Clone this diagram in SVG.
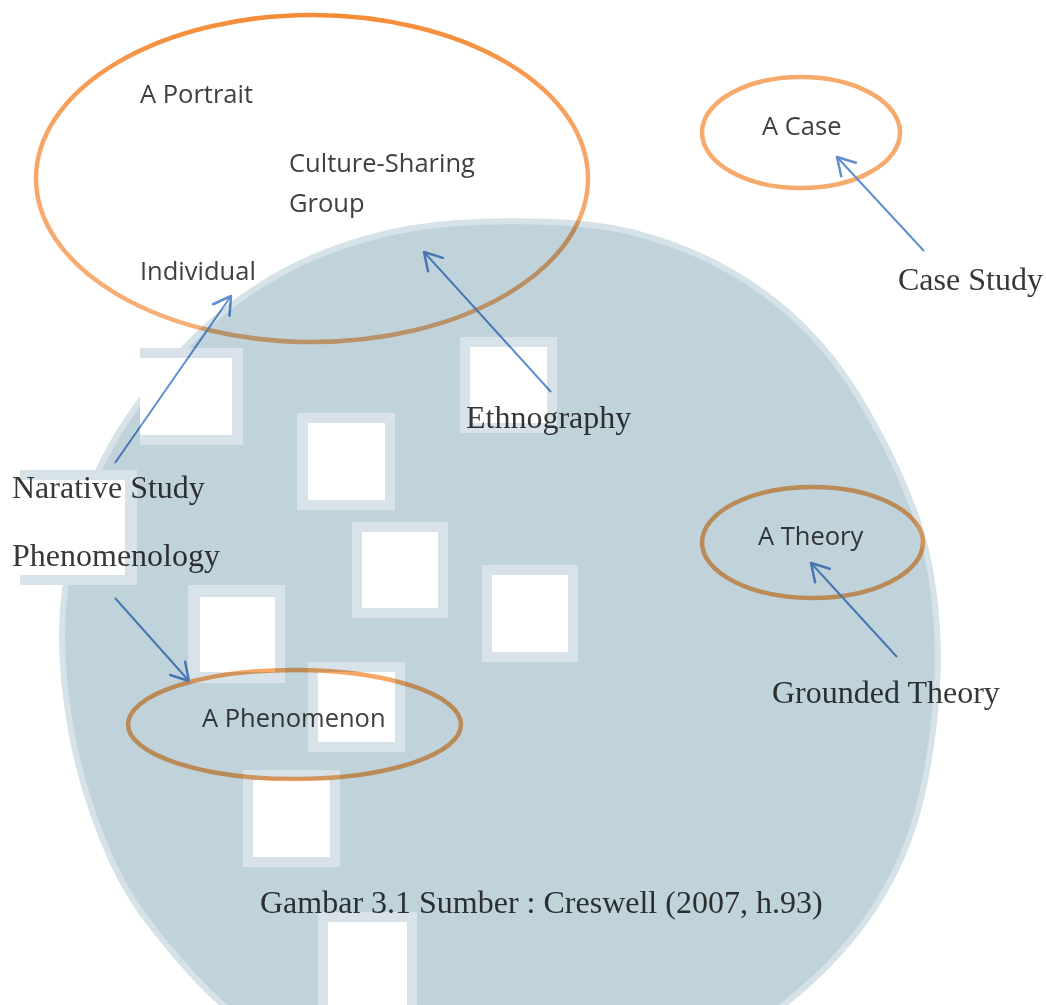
<svg xmlns="http://www.w3.org/2000/svg" width="1046" height="1005" viewBox="0 0 1046 1005">
<style>
.sans{font-family:"Open Sans","Noto Sans",sans-serif;font-size:25.5px;fill:#404040}
.serif{font-family:"Liberation Serif","Times New Roman",serif;font-size:32px;fill:#383838}
.ell{fill:none;stroke-width:4.5}
.arr{stroke:#5f8fd0;stroke-width:2;fill:none;marker-end:url(#ah)}
</style>
<defs>
<linearGradient id="bigGrad" x1="0" y1="0" x2="0" y2="1">
<stop offset="0" stop-color="#f58d38"/>
<stop offset="0.35" stop-color="#f6a566"/>
<stop offset="1" stop-color="#f8b07a"/>
</linearGradient>
<marker id="ah" markerUnits="userSpaceOnUse" viewBox="-20 -15 25 30" markerWidth="25" markerHeight="30" refX="0" refY="0" orient="auto" overflow="visible">
<path d="M-17,-10 L0,0 L-17,10" fill="none" stroke="#5f8fd0" stroke-width="2.5" stroke-linecap="round" stroke-linejoin="round"/>
</marker>
<mask id="wm" maskUnits="userSpaceOnUse" x="0" y="0" width="1046" height="1005">
<path d="M 552.5,222 Q 600,224 635,233 Q 670,242 702.5,257 Q 735,272 762.5,292 Q 790,312 812.5,336 Q 835,360 853.5,389 Q 872,418 888.5,451.5 Q 905,485 916.5,517.5 Q 928,550 933.5,591.5 Q 939,633 937.5,676.5 Q 936,720 927,770 Q 918,820 901.5,857.5 Q 885,895 862.5,925 Q 840,955 810,982.5 Q 780,1010 740,1035 Q 700,1060 600,1075 Q 500,1090 400,1075 Q 300,1060 262.5,1035 Q 225,1010 195,977.5 Q 165,945 141.5,912.5 Q 118,880 99,830 Q 80,780 71,730 Q 62,680 62,635 Q 62,590 73.5,545 Q 85,500 97.5,472.5 Q 110,445 127.5,419 Q 145,393 170,364 Q 195,335 222.5,312.5 Q 250,290 285,271 Q 320,252 365,239 Q 410,226 457.5,223 Q 505,220 552.5,222 Z" fill="#ffffff" stroke="#a8a8a8" stroke-width="6"/>
<g fill="#a0a0a0">
<rect x="140" y="348" width="103" height="97"/>
<rect x="297" y="413" width="98" height="97"/>
<rect x="460" y="337" width="97" height="96"/>
<rect x="352" y="522" width="96" height="96"/>
<rect x="482" y="565" width="96" height="97"/>
<rect x="188" y="585" width="97" height="98"/>
<rect x="308" y="662" width="97" height="90"/>
<rect x="243" y="770" width="97" height="97"/>
<rect x="318" y="912" width="99" height="100"/>
<rect x="20" y="470" width="117" height="115"/>
</g>
<g fill="#000000">
<rect x="140" y="358" width="92" height="77"/>
<rect x="308" y="423" width="77" height="77"/>
<rect x="470" y="347" width="77" height="76"/>
<rect x="362" y="532" width="76" height="76"/>
<rect x="492" y="575" width="76" height="77"/>
<rect x="200" y="597" width="75" height="75"/>
<rect x="318" y="672" width="77" height="70"/>
<rect x="253" y="780" width="77" height="77"/>
<rect x="328" y="922" width="79" height="90"/>
<rect x="20" y="480" width="105" height="95"/>
</g>
</mask>
</defs>
<rect width="1046" height="1005" fill="#ffffff"/>
<g id="node-portrait-group">
<ellipse cx="312" cy="178.5" rx="276" ry="163.5" class="ell" stroke="url(#bigGrad)"/>
<text class="sans" x="140" y="103">A Portrait</text>
<text class="sans" x="289" y="172">Culture-Sharing</text>
<text class="sans" x="289" y="212">Group</text>
<text class="sans" x="140" y="280">Individual</text>
</g>
<g id="node-case">
<ellipse cx="801" cy="132.5" rx="99" ry="55.5" class="ell" stroke="#f6ab6c"/>
<text class="sans" x="762" y="135">A Case</text>
</g>
<g id="node-theory">
<ellipse cx="812.5" cy="542.5" rx="110.5" ry="55.5" class="ell" stroke="#f7a765"/>
<text class="sans" x="758" y="545">A Theory</text>
</g>
<g id="node-phenomenon">
<ellipse cx="294.5" cy="724.5" rx="166.5" ry="54.5" class="ell" stroke="#f7a765"/>
<text class="sans" x="202" y="727">A Phenomenon</text>
</g>
<g id="label-case-study"><text class="serif" x="898" y="290">Case Study</text></g>
<g id="label-ethnography"><text class="serif" x="466" y="428">Ethnography</text></g>
<g id="label-narative"><text class="serif" x="12" y="498">Narative Study</text></g>
<g id="label-phenomenology"><text class="serif" x="12" y="566">Phenomenology</text></g>
<g id="label-grounded"><text class="serif" x="772" y="703">Grounded Theory</text></g>
<g id="caption"><text class="serif" x="260" y="913">Gambar 3.1 Sumber : Creswell (2007, h.93)</text></g>
<g id="connectors">
<line class="arr" x1="115" y1="463" x2="231" y2="296"/>
<line class="arr" x1="551" y1="392" x2="424" y2="252"/>
<line class="arr" x1="924" y1="251" x2="837" y2="157"/>
<line class="arr" x1="115" y1="598" x2="189" y2="681"/>
<line class="arr" x1="897" y1="657" x2="811" y2="563"/>
</g>
<g id="watermark" style="mix-blend-mode:multiply">
<rect x="0" y="0" width="1046" height="1005" fill="#c0d3db" mask="url(#wm)"/>
</g>
</svg>
